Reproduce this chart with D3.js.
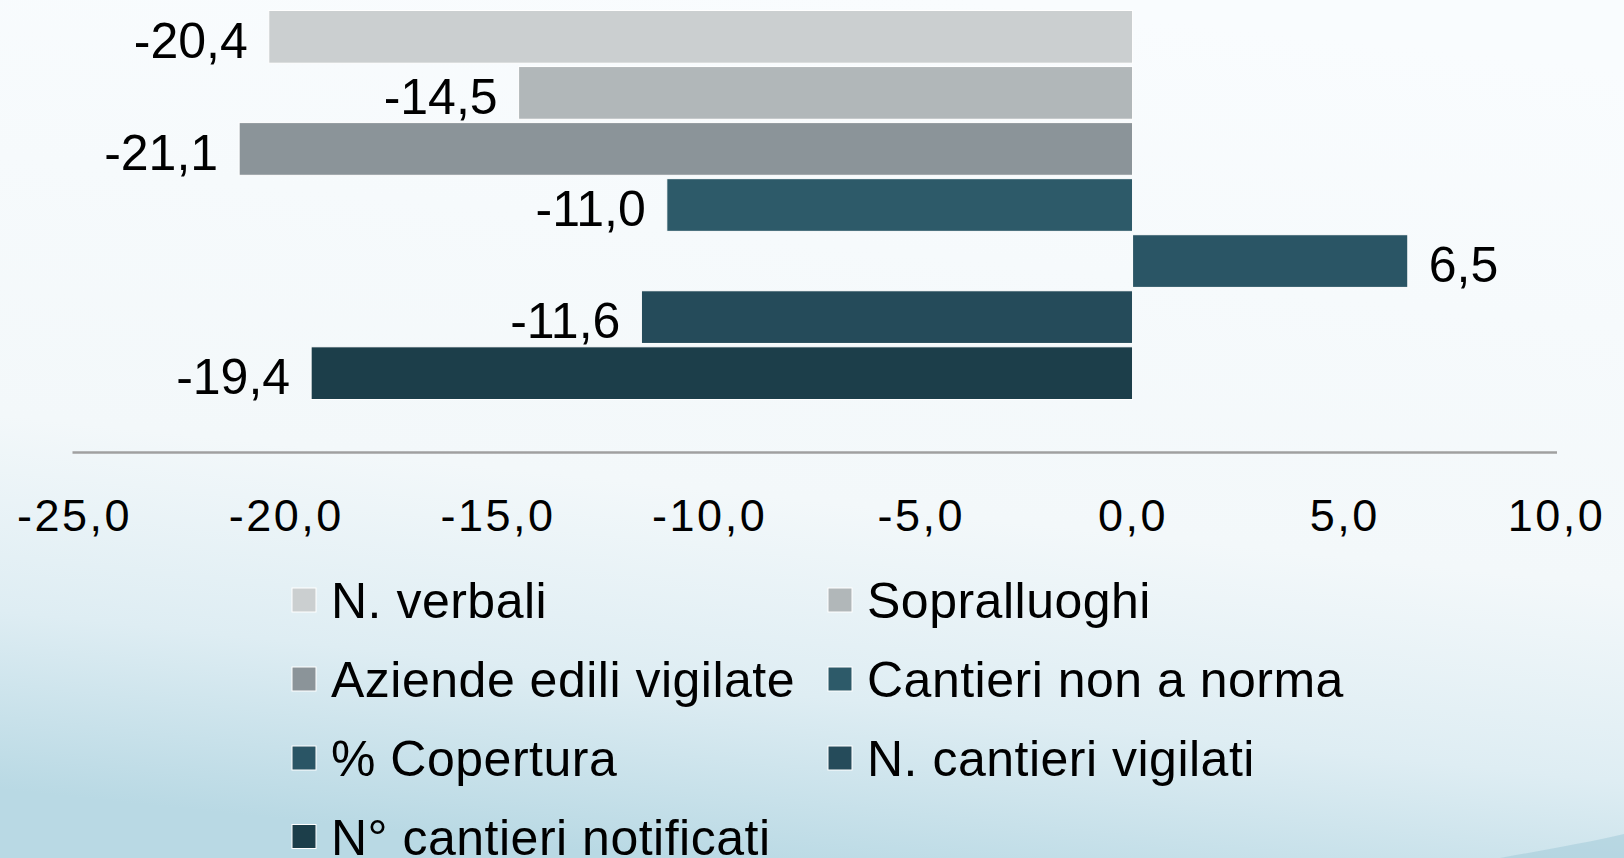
<!DOCTYPE html>
<html>
<head>
<meta charset="utf-8">
<script src="https://cdn.jsdelivr.net/npm/d3@7"></script>
<style>
  body { margin: 0; padding: 0; overflow: hidden; }
  svg text { font-family: "Liberation Sans", Arial, sans-serif; fill: #000; }
</style>
</head>
<body>
<div id="chart"></div>
<script>
// data, top to bottom as drawn
var series = ["N. verbali", "Sopralluoghi", "Aziende edili vigilate", "Cantieri non a norma",
              "% Copertura", "N. cantieri vigilati", "N° cantieri notificati"];
var values = [-20.4, -14.5, -21.1, -11.0, 6.5, -11.6, -19.4];
var colors = ["#cbcfd0", "#b1b7b9", "#8b9499", "#2d5a69", "#2a5565", "#254b5a", "#1c3e4a"];
var tickValues = [-25, -20, -15, -10, -5, 0, 5, 10];

var svgWidth = 1624;
var svgHeight = 858;

var svg = d3.select("#chart")
  .append("svg")
  .attr("width", svgWidth)
  .attr("height", svgHeight);

// background
var defs = svg.append("defs");
var bg = defs.append("linearGradient")
  .attr("id", "bg")
  .attr("x1", 0.6).attr("y1", 0)
  .attr("x2", 0.4).attr("y2", 1);
bg.append("stop").attr("offset", "0%").attr("stop-color", "#f9fcfe");
bg.append("stop").attr("offset", "58%").attr("stop-color", "#f3f8fa");
bg.append("stop").attr("offset", "80%").attr("stop-color", "#deedf3");
bg.append("stop").attr("offset", "100%").attr("stop-color", "#b9d9e4");

svg.append("rect")
  .attr("width", svgWidth)
  .attr("height", svgHeight)
  .attr("fill", "url(#bg)");

// faint swoosh at the bottom right
svg.append("path")
  .attr("d", "M1500,858 C1545,850 1590,842 1624,834 L1624,858 Z")
  .attr("fill", "#a3cbd8")
  .attr("opacity", 0.55);

var fmt = d3.formatLocale({decimal: ",", thousands: ".", grouping: [3], currency: ["", "€"], minus: "-"}).format(".1f");

// scales
var x = d3.scaleLinear()
  .domain([-25, 10])
  .range([74, 1556]);

var y = d3.scaleBand()
  .domain(series)
  .range([10.5, 399.5])
  .paddingInner(0.06);

// bars
svg.append("g")
  .selectAll("rect")
  .data(values)
  .enter()
  .append("rect")
    .attr("x", function(d) { return x(Math.min(0, d)); })
    .attr("y", function(d, i) { return y(series[i]); })
    .attr("width", function(d) { return Math.abs(x(d) - x(0)); })
    .attr("height", y.bandwidth())
    .attr("fill", function(d, i) { return colors[i]; })
    .attr("stroke", "#ffffff")
    .attr("stroke-width", 1);

// value labels
svg.append("g")
  .selectAll("text")
  .data(values)
  .enter()
  .append("text")
    .attr("x", function(d) { return d < 0 ? x(d) - 21 : x(d) + 21; })
    .attr("y", function(d, i) { return y(series[i]) + y.bandwidth() / 2 + 21; })
    .attr("text-anchor", function(d) { return d < 0 ? "end" : "start"; })
    .style("font-size", "50px")
    .text(function(d) { return fmt(d); });

// x axis
var bottomAxis = d3.axisBottom(x)
  .tickValues(tickValues)
  .tickSize(0)
  .tickPadding(47)
  .tickFormat(fmt);

var axisG = svg.append("g")
  .attr("transform", "translate(0, 452.5)")
  .call(bottomAxis);
axisG.select(".domain")
  .attr("stroke", "#a0a0a0")
  .attr("stroke-width", 2.5)
  .attr("d", "M72.5,0H1557");
axisG.selectAll("text")
  .style("font-size", "45px")
  .style("letter-spacing", "2.5px")
  .attr("fill", "#000")
  .attr("font-family", null);

// legend
var colX = [292, 828];
var rowY = [600, 679, 758, 836.5];
var legend = svg.append("g")
  .selectAll("g")
  .data(series)
  .enter()
  .append("g")
    .attr("transform", function(d, i) {
      return "translate(" + colX[i % 2] + "," + rowY[Math.floor(i / 2)] + ")";
    });

legend.append("rect")
  .attr("x", 0)
  .attr("y", -12)
  .attr("width", 24)
  .attr("height", 24)
  .attr("fill", function(d, i) { return colors[i]; })
  .attr("stroke", "#ffffff")
  .attr("stroke-width", 1);

legend.append("text")
  .attr("x", 39)
  .attr("y", 18)
  .style("font-size", "50px")
  .style("letter-spacing", "0.5px")
  .text(function(d) { return d; });
</script>
</body>
</html>
